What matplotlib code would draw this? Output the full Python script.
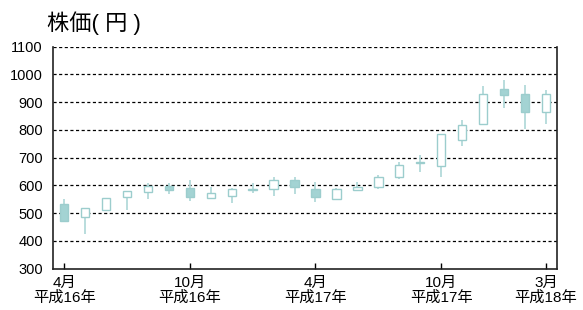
import numpy as np
import matplotlib
matplotlib.use("Agg")
import matplotlib.pyplot as plt

plt.rcParams['font.family'] = ['Liberation Sans', 'Noto Sans CJK JP', 'DejaVu Sans']

# Monthly prices, Apr H16 .. Mar H18
opens  = [532, 486, 512, 557, 577, 598, 589, 554, 562, 584, 588, 621,
          586, 550, 582, 596, 629, 679, 669, 762, 820, 947, 929, 863]
highs  = [552, 519, 556, 581, 607, 608, 620, 595, 589, 607, 629, 629,
          611, 589, 612, 637, 683, 708, 785, 836, 958, 980, 962, 944]
lows   = [470, 426, 510, 512, 550, 570, 544, 554, 536, 574, 563, 570,
          539, 549, 581, 588, 623, 648, 630, 741, 819, 877, 804, 822]
closes = [473, 518, 554, 579, 598, 583, 557, 571, 588, 586, 621, 593,
          557, 588, 595, 632, 675, 683, 784, 818, 928, 927, 863, 929]

tick_idx = [0, 6, 12, 18, 23]
tick_labels = ['4月\n平成16年', '10月\n平成16年', '4月\n平成17年', '10月\n平成17年', '3月\n平成18年']
yticks = list(range(300, 1101, 100))

edge = '#9ccdcd'
fill = '#a3d3d3'
wick = '#b3dada'

o = np.array(opens)
c = np.array(closes)
x = np.arange(len(o))

fig = plt.figure(figsize=(5.83, 3.10), dpi=100)
ax = fig.add_axes([0.0904, 0.133, 0.8656, 0.717])

# grid
for v in yticks[1:]:
    ax.axhline(v, color='black', lw=0.9, ls=(0, (2.5, 2)), zorder=1)

# wicks
ax.vlines(x, lows, highs, color=wick, lw=1.3, zorder=2)

# bodies
down = c < o
bottoms = np.minimum(o, c)
heights = np.maximum(np.abs(c - o), 1.5)
colors = [fill if d else 'white' for d in down]
ax.bar(x, heights, bottom=bottoms, width=0.4, color=colors,
       edgecolor=edge, linewidth=1.0, zorder=3)

ax.set_xlim(-0.55, 23.55)
ax.set_ylim(300, 1100)
ax.set_yticks(yticks)
ax.set_xticks(tick_idx)
ax.set_xticklabels(tick_labels, fontsize=11, linespacing=1.1)
ax.tick_params(axis='y', length=0, labelsize=10.5, pad=7)
ax.tick_params(axis='x', direction='in', length=4, width=1, pad=5)

ax.spines['top'].set_visible(False)
for s in ['left', 'right', 'bottom']:
    ax.spines[s].set_linewidth(1.2)
    ax.spines[s].set_color('#222222')

fig.text(0.080, 0.926, '株価( 円 )', fontsize=16, va='center', ha='left')

fig.savefig('out.png', dpi=100)
